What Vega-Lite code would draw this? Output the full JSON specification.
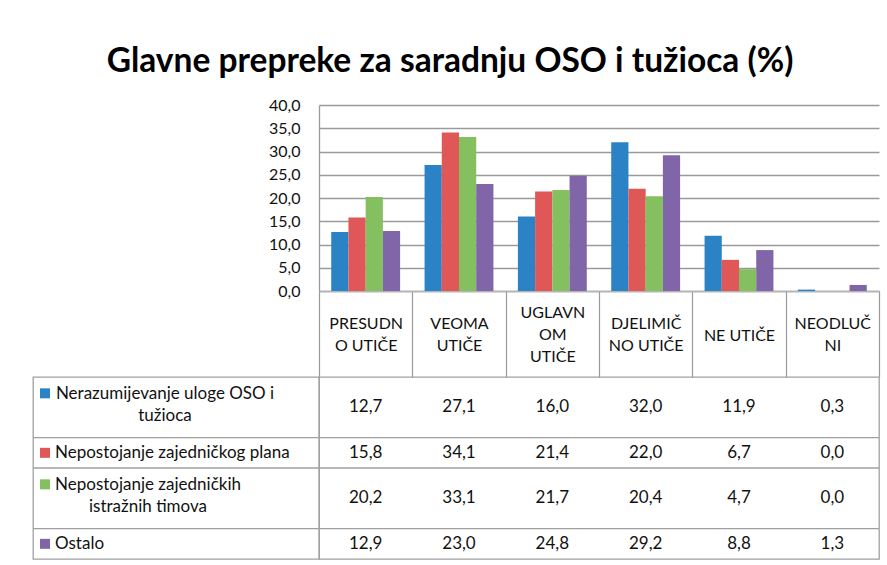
{
  "$schema": "https://vega.github.io/schema/vega-lite/v6.json",
  "padding": {"left": 31, "top": 44, "right": 10, "bottom": 5},
  "background": "white",
  "title": {
    "text": "Glavne prepreke za saradnju OSO i tužioca (%)",
    "font": "Lato",
    "fontSize": 33.5,
    "fontWeight": "bold",
    "color": "#000000",
    "anchor": "middle",
    "offset": 18,
    "dx": -6
  },
  "datasets": {
    "d": [
      {"kategorija": "PRESUDNO UTIČE", "serija": "Nerazumijevanje uloge OSO i tužioca", "vrijednost": 12.7},
      {"kategorija": "VEOMA UTIČE", "serija": "Nerazumijevanje uloge OSO i tužioca", "vrijednost": 27.1},
      {"kategorija": "UGLAVNOM UTIČE", "serija": "Nerazumijevanje uloge OSO i tužioca", "vrijednost": 16.0},
      {"kategorija": "DJELIMIČNO UTIČE", "serija": "Nerazumijevanje uloge OSO i tužioca", "vrijednost": 32.0},
      {"kategorija": "NE UTIČE", "serija": "Nerazumijevanje uloge OSO i tužioca", "vrijednost": 11.9},
      {"kategorija": "NEODLUČNI", "serija": "Nerazumijevanje uloge OSO i tužioca", "vrijednost": 0.3},
      {"kategorija": "PRESUDNO UTIČE", "serija": "Nepostojanje zajedničkog plana", "vrijednost": 15.8},
      {"kategorija": "VEOMA UTIČE", "serija": "Nepostojanje zajedničkog plana", "vrijednost": 34.1},
      {"kategorija": "UGLAVNOM UTIČE", "serija": "Nepostojanje zajedničkog plana", "vrijednost": 21.4},
      {"kategorija": "DJELIMIČNO UTIČE", "serija": "Nepostojanje zajedničkog plana", "vrijednost": 22.0},
      {"kategorija": "NE UTIČE", "serija": "Nepostojanje zajedničkog plana", "vrijednost": 6.7},
      {"kategorija": "NEODLUČNI", "serija": "Nepostojanje zajedničkog plana", "vrijednost": 0.0},
      {"kategorija": "PRESUDNO UTIČE", "serija": "Nepostojanje zajedničkih istražnih timova", "vrijednost": 20.2},
      {"kategorija": "VEOMA UTIČE", "serija": "Nepostojanje zajedničkih istražnih timova", "vrijednost": 33.1},
      {"kategorija": "UGLAVNOM UTIČE", "serija": "Nepostojanje zajedničkih istražnih timova", "vrijednost": 21.7},
      {"kategorija": "DJELIMIČNO UTIČE", "serija": "Nepostojanje zajedničkih istražnih timova", "vrijednost": 20.4},
      {"kategorija": "NE UTIČE", "serija": "Nepostojanje zajedničkih istražnih timova", "vrijednost": 4.7},
      {"kategorija": "NEODLUČNI", "serija": "Nepostojanje zajedničkih istražnih timova", "vrijednost": 0.0},
      {"kategorija": "PRESUDNO UTIČE", "serija": "Ostalo", "vrijednost": 12.9},
      {"kategorija": "VEOMA UTIČE", "serija": "Ostalo", "vrijednost": 23.0},
      {"kategorija": "UGLAVNOM UTIČE", "serija": "Ostalo", "vrijednost": 24.8},
      {"kategorija": "DJELIMIČNO UTIČE", "serija": "Ostalo", "vrijednost": 29.2},
      {"kategorija": "NE UTIČE", "serija": "Ostalo", "vrijednost": 8.8},
      {"kategorija": "NEODLUČNI", "serija": "Ostalo", "vrijednost": 1.3}
    ],
    "serije": [
      {"serija": "Nerazumijevanje uloge OSO i tužioca", "oznaka": "Nerazumijevanje uloge OSO i\ntužioca"},
      {"serija": "Nepostojanje zajedničkog plana", "oznaka": "Nepostojanje zajedničkog plana"},
      {"serija": "Nepostojanje zajedničkih istražnih timova", "oznaka": "Nepostojanje zajedničkih\nistražnih timova"},
      {"serija": "Ostalo", "oznaka": "Ostalo"}
    ]
  },
  "columns": 2,
  "spacing": {"row": 86, "column": 0},
  "bounds": "flush",
  "concat": [
    {
      "width": 286,
      "height": 186,
      "view": {"stroke": null},
      "data": {"values": []},
      "mark": "point"
    },
    {
      "width": 560,
      "height": 186,
      "view": {"stroke": null},
      "data": {"name": "d"},
      "mark": {"type": "bar"},
      "encoding": {
        "x": {
          "field": "kategorija",
          "type": "nominal",
          "sort": ["PRESUDNO UTIČE", "VEOMA UTIČE", "UGLAVNOM UTIČE", "DJELIMIČNO UTIČE", "NE UTIČE", "NEODLUČNI"],
          "scale": {"paddingInner": 0, "paddingOuter": 0},
          "axis": {
            "title": null,
            "orient": "bottom",
            "domain": true,
            "domainColor": "#b4b4b4",
            "domainWidth": 1.5,
            "ticks": true,
            "tickSize": 86,
            "tickBand": "extent",
            "tickColor": "#9a9a9a",
            "tickWidth": 1.2,
            "labelExpr": "datum.label == 'PRESUDNO UTIČE' ? ['PRESUDN', 'O UTIČE'] : datum.label == 'VEOMA UTIČE' ? ['VEOMA', 'UTIČE'] : datum.label == 'UGLAVNOM UTIČE' ? ['UGLAVN', 'OM', 'UTIČE'] : datum.label == 'DJELIMIČNO UTIČE' ? ['DJELIMIČ', 'NO UTIČE'] : datum.label == 'NEODLUČNI' ? ['NEODLUČ', 'NI'] : datum.label",
            "labelPadding": {
              "condition": [
                {"test": "datum.value == 'UGLAVNOM UTIČE'", "value": -65},
                {"test": "datum.value == 'NE UTIČE'", "value": -42}
              ],
              "value": -54
            },
            "labelBaseline": "middle",
            "labelAngle": 0,
            "labelFont": "Lato",
            "labelFontSize": 16,
            "labelColor": "#111111",
            "labelLineHeight": 22,
            "labelOverlap": false,
            "labelLimit": 300
          }
        },
        "xOffset": {
          "field": "serija",
          "type": "nominal",
          "sort": ["Nerazumijevanje uloge OSO i tužioca", "Nepostojanje zajedničkog plana", "Nepostojanje zajedničkih istražnih timova", "Ostalo"],
          "scale": {"paddingInner": 0, "paddingOuter": 0.71}
        },
        "y": {
          "field": "vrijednost",
          "type": "quantitative",
          "scale": {"domain": [0, 40], "nice": false},
          "axis": {
            "title": null,
            "values": [0, 5, 10, 15, 20, 25, 30, 35, 40],
            "format": ".1f",
            "grid": true,
            "gridColor": "#9a9a9a",
            "gridWidth": 1.3,
            "domain": true,
            "domainColor": "#9a9a9a",
            "domainWidth": 1.3,
            "ticks": false,
            "labelPadding": 19,
            "labelFont": "Lato",
            "labelFontSize": 16,
            "labelColor": "#111111"
          }
        },
        "color": {
          "field": "serija",
          "type": "nominal",
          "scale": {
            "domain": ["Nerazumijevanje uloge OSO i tužioca", "Nepostojanje zajedničkog plana", "Nepostojanje zajedničkih istražnih timova", "Ostalo"],
            "range": ["#2B83C6", "#E05757", "#84C060", "#8165A9"]
          },
          "legend": null
        }
      }
    },
    {
      "width": 286,
      "height": 182,
      "view": {"stroke": "#a0a0a0", "strokeWidth": 1.3},
      "data": {"name": "serije"},
      "layer": [
        {
          "transform": [{"filter": "datum.serija != 'Nerazumijevanje uloge OSO i tužioca'"}],
          "mark": {"type": "rule", "color": "#a0a0a0", "strokeWidth": 1.3},
          "encoding": {
            "y": {
              "field": "serija",
              "type": "nominal",
              "bandPosition": 0,
              "scale": {"domain": ["Nerazumijevanje uloge OSO i tužioca", "_1", "Nepostojanje zajedničkog plana", "Nepostojanje zajedničkih istražnih timova", "_3", "Ostalo"], "paddingInner": 0, "paddingOuter": 0},
              "axis": null
            }
          }
        },
        {
          "transform": [{"filter": "indexof(datum.oznaka, '\\n') < 0"}],
          "mark": {"type": "text", "align": "left", "baseline": "middle", "dx": -121, "font": "Lato", "fontSize": 17, "color": "#111111", "lineBreak": "\n"},
          "encoding": {
            "text": {"field": "oznaka", "type": "nominal"},
            "y": {"field": "serija", "type": "nominal", "bandPosition": 0.5, "axis": null}
          }
        },
        {
          "transform": [{"filter": "datum.serija == 'Nerazumijevanje uloge OSO i tužioca'"}],
          "mark": {"type": "text", "align": "center", "baseline": "middle", "dx": -11, "dy": -13, "font": "Lato", "fontSize": 17, "color": "#111111", "lineBreak": "\n", "lineHeight": 22},
          "encoding": {
            "text": {"field": "oznaka", "type": "nominal"},
            "y": {"field": "serija", "type": "nominal", "bandPosition": 1, "axis": null}
          }
        },
        {
          "transform": [{"filter": "datum.serija == 'Nepostojanje zajedničkih istražnih timova'"}],
          "mark": {"type": "text", "align": "center", "baseline": "middle", "dx": -28, "dy": -13, "font": "Lato", "fontSize": 17, "color": "#111111", "lineBreak": "\n", "lineHeight": 22},
          "encoding": {
            "text": {"field": "oznaka", "type": "nominal"},
            "y": {"field": "serija", "type": "nominal", "bandPosition": 1, "axis": null}
          }
        },
        {
          "transform": [{"filter": "indexof(datum.oznaka, '\\n') < 0"}],
          "mark": {"type": "point", "shape": "square", "filled": true, "size": 100, "opacity": 1, "xOffset": -131},
          "encoding": {
            "y": {"field": "serija", "type": "nominal", "bandPosition": 0.5, "axis": null},
            "color": {"field": "serija", "type": "nominal", "scale": {"domain": ["Nerazumijevanje uloge OSO i tužioca", "Nepostojanje zajedničkog plana", "Nepostojanje zajedničkih istražnih timova", "Ostalo"], "range": ["#2B83C6", "#E05757", "#84C060", "#8165A9"]}, "legend": null}
          }
        },
        {
          "transform": [{"filter": "indexof(datum.oznaka, '\\n') >= 0"}],
          "mark": {"type": "point", "shape": "square", "filled": true, "size": 100, "opacity": 1, "xOffset": -131, "yOffset": -14},
          "encoding": {
            "y": {"field": "serija", "type": "nominal", "bandPosition": 1, "axis": null},
            "color": {"field": "serija", "type": "nominal", "scale": {"domain": ["Nerazumijevanje uloge OSO i tužioca", "Nepostojanje zajedničkog plana", "Nepostojanje zajedničkih istražnih timova", "Ostalo"], "range": ["#2B83C6", "#E05757", "#84C060", "#8165A9"]}, "legend": null}
          }
        }
      ]
    },
    {
      "width": 560,
      "height": 182,
      "view": {"stroke": "#a0a0a0", "strokeWidth": 1.3},
      "layer": [
        {
          "data": {"name": "serije"},
          "transform": [{"filter": "datum.serija != 'Nerazumijevanje uloge OSO i tužioca'"}],
          "mark": {"type": "rule", "color": "#a0a0a0", "strokeWidth": 1.3},
          "encoding": {
            "y": {
              "field": "serija",
              "type": "nominal",
              "bandPosition": 0,
              "scale": {"domain": ["Nerazumijevanje uloge OSO i tužioca", "_1", "Nepostojanje zajedničkog plana", "Nepostojanje zajedničkih istražnih timova", "_3", "Ostalo"], "paddingInner": 0, "paddingOuter": 0},
              "axis": null
            }
          }
        },
        {
          "data": {"name": "d"},
          "transform": [{"filter": {"field": "serija", "oneOf": ["Nepostojanje zajedničkog plana", "Ostalo"]}}],
          "mark": {"type": "text", "align": "center", "baseline": "middle", "font": "Lato", "fontSize": 17, "color": "#111111"},
          "encoding": {
            "x": {
              "field": "kategorija",
              "type": "nominal",
              "sort": ["PRESUDNO UTIČE", "VEOMA UTIČE", "UGLAVNOM UTIČE", "DJELIMIČNO UTIČE", "NE UTIČE", "NEODLUČNI"],
              "scale": {"paddingInner": 0, "paddingOuter": 0},
              "axis": {"title": null, "grid": true, "tickBand": "extent", "gridColor": "#a0a0a0", "gridWidth": 1.3, "ticks": false, "labels": false, "domain": false}
            },
            "y": {"field": "serija", "type": "nominal", "bandPosition": 0.5, "axis": null},
            "text": {"field": "vrijednost", "type": "quantitative", "format": ".1f"}
          }
        },
        {
          "data": {"name": "d"},
          "transform": [{"filter": {"field": "serija", "oneOf": ["Nerazumijevanje uloge OSO i tužioca", "Nepostojanje zajedničkih istražnih timova"]}}],
          "mark": {"type": "text", "align": "center", "baseline": "middle", "font": "Lato", "fontSize": 17, "color": "#111111"},
          "encoding": {
            "x": {
              "field": "kategorija",
              "type": "nominal",
              "sort": ["PRESUDNO UTIČE", "VEOMA UTIČE", "UGLAVNOM UTIČE", "DJELIMIČNO UTIČE", "NE UTIČE", "NEODLUČNI"],
              "axis": null
            },
            "y": {"field": "serija", "type": "nominal", "bandPosition": 1, "axis": null},
            "text": {"field": "vrijednost", "type": "quantitative", "format": ".1f"}
          }
        }
      ]
    }
  ],
  "config": {
    "font": "Lato",
    "view": {"stroke": null},
    "locale": {
      "number": {"decimal": ",", "thousands": ".", "grouping": [3], "currency": ["", " KM"]}
    }
  }
}
